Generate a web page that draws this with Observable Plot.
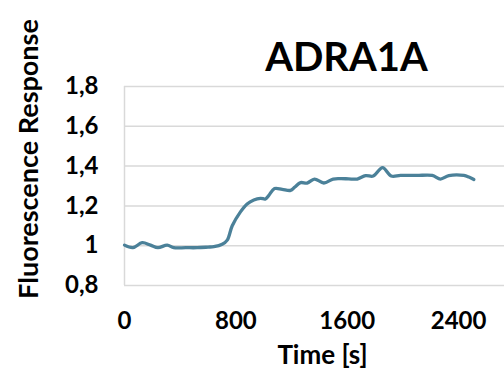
<!DOCTYPE html>
<html>
<head>
<meta charset="utf-8">
<script src="https://cdn.jsdelivr.net/npm/d3@7"></script>
<script src="https://cdn.jsdelivr.net/npm/@observablehq/plot@0.6"></script>
<style>
  html, body { margin: 0; padding: 0; background: #fff; }
  svg { display: block; }
</style>
</head>
<body>
<div id="chart"></div>
<script>
// Receptor response trace over time
const title = "ADRA1A";
const timeS = [0, 60, 127, 187, 240, 307, 354, 440, 522, 600, 642, 702, 738, 774, 833, 881, 929, 977, 1013, 1037, 1078, 1133, 1193, 1224, 1265, 1312, 1365, 1432, 1499, 1552, 1610, 1672, 1732, 1787, 1854, 1916, 1983, 2100, 2211, 2270, 2330, 2438, 2474, 2510];
const response = [1.003, 0.99, 1.015, 1.003, 0.99, 1.003, 0.99, 0.99, 0.99, 0.993, 0.995, 1.007, 1.028, 1.10, 1.17, 1.21, 1.23, 1.238, 1.235, 1.253, 1.287, 1.283, 1.278, 1.295, 1.317, 1.315, 1.335, 1.315, 1.335, 1.337, 1.336, 1.335, 1.352, 1.35, 1.392, 1.35, 1.353, 1.353, 1.353, 1.335, 1.352, 1.353, 1.345, 1.333];
const xTicks = [0, 800, 1600, 2400];
const yTicks = [0.8, 1, 1.2, 1.4, 1.6, 1.8];
const xLabel = "Time [s]";
const yLabel = "Fluorescence Response";

const data = timeS.map((t, i) => ({t, v: response[i]}));
const font = "Lato, 'Open Sans', sans-serif";
const comma = d => String(d).replace(".", ",");

const chart = Plot.plot({
  width: 504,
  height: 377,
  marginLeft: 124,
  marginRight: 0,
  marginTop: 86,
  marginBottom: 92,
  style: {fontFamily: font, background: "#fff", overflow: "visible"},
  x: {domain: [0, 2730], ticks: xTicks},
  y: {domain: [0.8, 1.8], ticks: yTicks},
  marks: [
    Plot.gridY(yTicks, {stroke: "#d9d9d9", strokeOpacity: 1, strokeWidth: 1.5}),
    Plot.ruleX([0], {stroke: "#d9d9d9", strokeWidth: 1.5}),
    Plot.axisY(yTicks, {tickSize: 0, tickPadding: 26, tickFormat: comma, fontSize: 24, fontWeight: "bold", fill: "#000", label: null}),
    Plot.axisX(xTicks, {tickSize: 0, tickPadding: 26, tickFormat: d => String(d), fontSize: 24, fontWeight: "bold", fill: "#000", label: null}),
    Plot.line(data, {x: "t", y: "v", stroke: "#4b8199", strokeWidth: 3.3, curve: "catmull-rom"}),
    Plot.text([title], {frameAnchor: "top", dx: 32, dy: -44, fontSize: 40, fontWeight: "bold", fill: "#000"}),
    Plot.text([xLabel], {frameAnchor: "bottom", dx: 8, dy: 78, fontSize: 26, fontWeight: "bold", fill: "#000"}),
    Plot.text([yLabel], {frameAnchor: "left", textAnchor: "middle", dx: -95, dy: -27, rotate: -90, fontSize: 27, fontWeight: "bold", fill: "#000"})
  ]
});
document.getElementById("chart").append(chart);
</script>
</body>
</html>
